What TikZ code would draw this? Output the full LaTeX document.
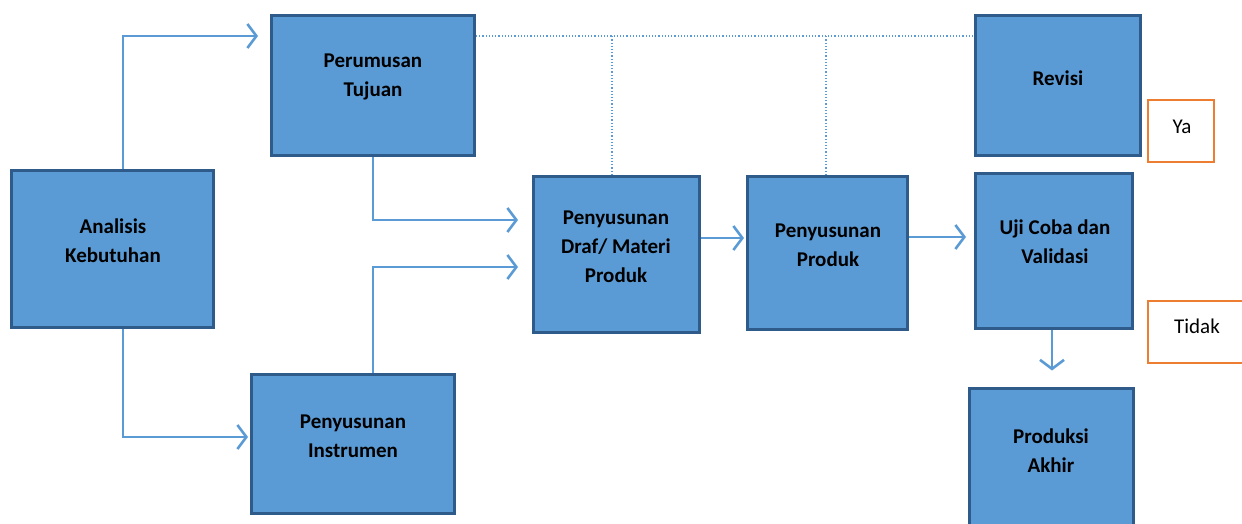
\documentclass[tikz,border=0pt]{standalone}
\usepackage{fontspec}
\setmainfont{Carlito}
\usetikzlibrary{arrows.meta}
\definecolor{boxfill}{HTML}{5B9BD5}
\definecolor{boxline}{HTML}{2F5B8A}
\definecolor{connc}{HTML}{5B9BD5}
\definecolor{orng}{HTML}{ED7D31}
\begin{document}
\begin{tikzpicture}[x=1pt,y=-1pt,
 box/.style={draw=boxline, fill=boxfill, line width=3pt, rectangle, inner sep=0pt},
 lbl/.style={font=\fontsize{21}{29}\selectfont\bfseries, align=center, text=black},
 opt/.style={draw=orng, line width=2pt, fill=white, rectangle, inner sep=0pt},
 optlbl/.style={font=\fontsize{21}{29}\selectfont, text=black},
 conn/.style={draw=connc, line width=1.8pt},
 arr/.style={conn, -{Straight Barb[length=9pt,width=24pt,line width=2.6pt]}},
 dotl/.style={draw=connc, line width=1.2pt, dotted}]
\useasboundingbox (0,0) rectangle (1242,524);
% boxes
\node[box, minimum width=202pt, minimum height=157pt] (ana) at (112.5,249) {};
\node[box, minimum width=203pt, minimum height=140pt] (per) at (373,85.5) {};
\node[box, minimum width=203pt, minimum height=139pt] (ins) at (353,444) {};
\node[box, minimum width=166pt, minimum height=156pt] (draf) at (616.5,254.5) {};
\node[box, minimum width=160pt, minimum height=153pt] (prod) at (827.5,253) {};
\node[box, minimum width=165pt, minimum height=140pt] (rev) at (1058,85.5) {};
\node[box, minimum width=157pt, minimum height=155pt] (uji) at (1054,251) {};
\node[box, minimum width=164pt, minimum height=150pt] (akh) at (1051.5,463) {};
\node[opt, minimum width=66pt, minimum height=62pt] (ya) at (1181,131) {};
\node[opt, minimum width=96pt, minimum height=62pt] (tidak) at (1196,332) {};
% labels
\node[lbl] (tana) at (113,241) {Analisis\\Kebutuhan};
\node[lbl] (tper) at (373,77) {Perumusan\\Tujuan};
\node[lbl] (tins) at (353,436) {Penyusunan\\Instrumen};
\node[lbl] (tdraf) at (616,247) {Penyusunan\\Draf/ Materi\\Produk};
\node[lbl] (tprod) at (828,245) {Penyusunan\\Produk};
\node[lbl] (trev) at (1058,78) {Revisi};
\node[lbl] (tuji) at (1055,242) {Uji Coba dan\\Validasi};
\node[lbl] (takh) at (1051,451) {Produksi\\Akhir};
\node[optlbl] (tya) at (1182,127) {Ya};
\node[optlbl] (ttidak) at (1197,326) {Tidak};
% connectors
\draw[arr, shorten >=12pt] (ana.north -| 123,0) |- (per.west |- 0,36);
\draw[arr, shorten >=2pt] (ana.south -| 123,0) |- (ins.west |- 0,437);
\draw[arr, shorten >=14pt] (per.south -| 373,0) |- (draf.west |- 0,220);
\draw[arr, shorten >=14pt] (ins.north -| 373,0) |- (draf.west |- 0,267);
\draw[arr, shorten >=2pt] (draf.east |- 0,238) -- (prod.west |- 0,238);
\draw[arr, shorten >=8pt] (prod.east |- 0,237) -- (uji.west |- 0,237);
\draw[arr, shorten >=16pt] (uji.south -| 1052,0) -- (akh.north -| 1052,0);
% dotted
\draw[dotl] (per.east |- 0,36) -- (rev.west |- 0,36);
\draw[dotl] (draf.north -| 612,0) -- (612,36);
\draw[dotl] (prod.north -| 826,0) -- (826,36);
\end{tikzpicture}
\end{document}
